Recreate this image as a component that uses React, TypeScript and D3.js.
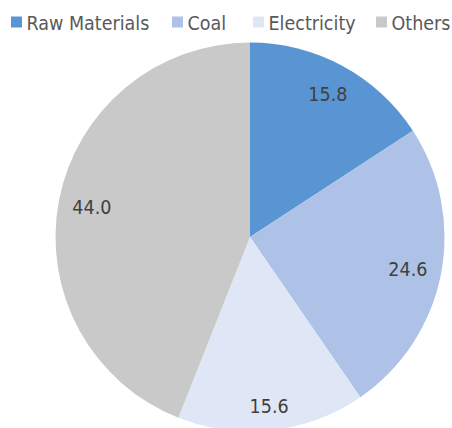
import React from "react";
import * as d3 from "d3";

// Share of production cost by component (%)
const categories = ["Raw Materials", "Coal", "Electricity", "Others"];
const shares = [15.8, 24.6, 15.6, 44.0];
const colors = ["#5A95D3", "#ADC2E6", "#DFE7F6", "#C9C9C9"];

const W = 452;
const H = 428;
const FONT = "'DejaVu Sans Condensed', 'DejaVu Sans', sans-serif";
const LABEL_TEXT = "#404040";
const LEGEND_TEXT = "#595959";

// legend layout: marker x positions
const legendX = [11, 172, 253, 376];

export default function App() {
  const cx = 250;
  const cy = 237;
  const r = 194.5;

  const pie = d3
    .pie<number>()
    .sort(null)
    .value((d) => d)
    .startAngle(0)
    .endAngle(2 * Math.PI);
  const arcs = pie(shares);
  const arc = d3.arc<d3.PieArcDatum<number>>().innerRadius(0).outerRadius(r);

  // place each label along its mid-angle so the outer corner of its box sits at rc
  const rc = 185;
  const hw = 22;
  const hh = 12;
  const labelPos = (a: d3.PieArcDatum<number>) => {
    const th = (a.startAngle + a.endAngle) / 2;
    const ux = Math.sin(th);
    const uy = -Math.cos(th);
    const sx = ux >= 0 ? hw : -hw;
    const sy = uy >= 0 ? hh : -hh;
    // solve |t*u + s| = rc for t
    const b = 2 * (ux * sx + uy * sy);
    const c = sx * sx + sy * sy - rc * rc;
    const t = (-b + Math.sqrt(b * b - 4 * c)) / 2;
    return [t * ux, t * uy];
  };

  return (
    <svg
      width={W}
      height={H}
      style={{ position: "absolute", left: 0, top: 0, background: "#fff" }}
    >
      <g transform={`translate(${cx},${cy})`}>
        {arcs.map((a, i) => (
          <path key={i} d={arc(a) || ""} fill={colors[i]} />
        ))}
        {arcs.map((a, i) => {
          const [x, y] = labelPos(a);
          return (
            <text
              key={i}
              x={x}
              y={y + 7.5}
              textAnchor="middle"
              fontFamily={FONT}
              fontSize={19.5}
              fill={LABEL_TEXT}
            >
              {a.data.toFixed(1)}
            </text>
          );
        })}
      </g>
      <g>
        {categories.map((c, i) => (
          <g key={c} transform={`translate(${legendX[i]},0)`}>
            <rect x={0} y={16.5} width={11} height={11} fill={colors[i]} />
            <text
              x={15.5}
              y={29.5}
              fontFamily={FONT}
              fontSize={19.5}
              fill={LEGEND_TEXT}
            >
              {c}
            </text>
          </g>
        ))}
      </g>
    </svg>
  );
}
